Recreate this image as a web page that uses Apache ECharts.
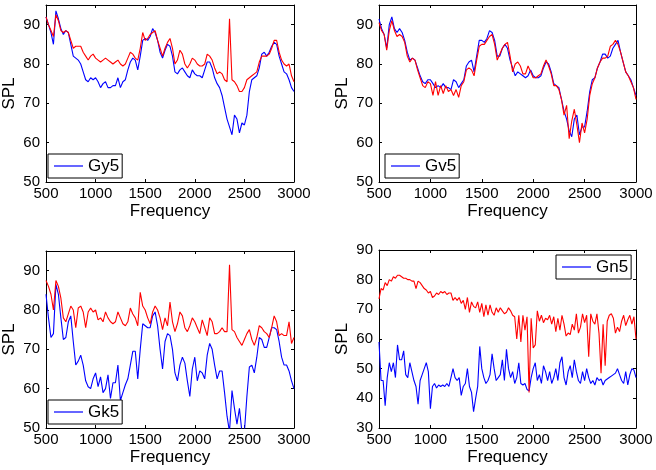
<!DOCTYPE html>
<html>
<head>
<meta charset="utf-8">
<script src="https://cdn.jsdelivr.net/npm/echarts@6/dist/echarts.min.js"></script>
<style>
  html, body { margin: 0; padding: 0; background: #fff; }
  #chart { width: 656px; height: 470px; }
</style>
</head>
<body>
<div id="chart"></div>
<script>
// frequency axis: 500..3000, samples every 25 Hz (panels 1-3) or 20 Hz (panel 4)
var freqStart = 500;
var xTicks = [500, 1000, 1500, 2000, 2500, 3000];

// panel 1 - Gy5 (step 25)
var gy5Blue = [
  92, 90, 88, 85, 93.5, 91.5, 89, 87.5, 88.5, 88,
  85, 82, 81.5, 81, 80, 78, 76, 75.5, 76.5, 76,
  76.5, 75.5, 74, 75, 75.5, 74, 74, 74.5, 74.5, 76.5,
  74, 75.5, 76, 78.5, 80.5, 81.5, 81, 78.5, 82, 86,
  86.5, 86, 87, 89, 88, 86, 83, 81.5, 83.5, 85,
  84.5, 82, 78, 77.5, 78.5, 79, 78, 77, 76.5, 78.5,
  77.5, 77, 77, 76.5, 78.5, 80.5, 80.5, 79, 76.5, 75,
  74, 72, 69, 66, 64, 62, 67, 66, 62.5, 65,
  64.5, 67, 73, 76, 76.5, 77, 79, 82.5, 83, 82,
  83, 84.5, 85.5, 85, 82, 80, 78, 77.5, 76, 74,
  73
];
var gy5Red = [
  92, 90, 88.5, 87, 92.5, 91, 88.5, 88, 88.5, 88,
  86, 84, 84.5, 84.5, 84.5, 83, 82, 81, 82, 82.5,
  81.5, 81, 80.5, 81, 81.5, 81, 80.5, 80, 80.5, 81,
  80, 79.5, 80, 81.5, 83, 82.5, 81.5, 81, 84, 88,
  86, 86.5, 87.5, 88, 88.5, 86, 84, 82, 84, 85.5,
  86.5, 84, 80, 81, 83.5, 82.5, 80, 79, 80, 81.5,
  81, 80, 79.5, 79.5, 80, 82.5, 82, 81, 79, 77.5,
  78, 77.5, 76, 75.5, 91.5, 76, 75.5, 74.5, 73, 73,
  74, 76, 76.5, 77, 77.5, 78, 80.5, 82, 82, 82,
  82.5, 84, 86, 86, 83, 81, 80, 79.5, 80, 77,
  75.5
];

// panel 2 - Gv5 (step 25)
var gv5Blue = [
  91.5, 89, 87.5, 84, 90, 92, 89, 88, 89, 88,
  86, 83, 81, 81.5, 81, 79, 77, 75.5, 75, 76,
  76, 75, 74, 74.5, 74, 75, 74, 74, 73.5, 76,
  75.5, 74, 75, 76, 79.5, 80.5, 81, 78, 82, 86,
  86, 85.5, 86.5, 88.5, 88, 86, 82, 82, 84, 85,
  84, 81, 79, 77, 78, 77.5, 77, 76.5, 77, 78.5,
  77, 76.5, 76.5, 77, 79, 80.5, 80, 78, 75, 74.5,
  74, 71, 68, 66, 63, 61.5, 66, 67, 62, 64,
  64, 68, 73, 76, 76.5, 79, 80.5, 82.5, 82.5, 81.5,
  82, 84, 85, 86, 83, 80.5, 78, 77, 76, 74,
  72
];
var gv5Red = [
  90.5, 88.5, 87.5, 83.5, 88.5, 91, 88.5, 87, 87.5, 87,
  85.5, 82, 80.5, 81.5, 81, 78.5, 76.5, 74.5, 74, 75.5,
  75, 72, 75.5, 72, 74.5, 72.5, 74.5, 73, 73.5, 72,
  73.5, 71.5, 74.5, 75.5, 78.5, 79, 78.5, 77, 81, 84.5,
  85, 85, 86, 87, 87.5, 85, 81, 82.5, 84, 85,
  85.5, 82, 78, 80, 80.5, 79.5, 77.5, 77.5, 79.5, 78,
  76.5, 76.5, 77, 77.5, 79.5, 81, 79.5, 77.5, 74.5, 74.5,
  73.5, 71, 67, 69.5, 61, 65.5, 68.5, 64.5, 60, 65,
  62.5, 66, 72, 75, 76.5, 79, 80.5, 81.5, 81.5, 82,
  84.5, 85, 86, 85, 83, 80.5, 78, 77, 75.5, 74,
  71
];

// panel 3 - Gk5 (step 25)
var gk5Blue = [
  84, 78, 73, 74, 86.5, 84, 78, 72.5, 73, 77,
  78.5, 72, 66, 67, 68.5, 66, 62, 60.5, 60, 62.5,
  64, 60.5, 63, 59, 60, 63.5, 57.5, 61.5, 61.5, 66,
  57, 59, 61, 62.5, 66, 69.5, 69.5, 62.5, 70, 76.5,
  76, 75.5, 75.5, 78.5, 79.5, 76, 70, 65, 72, 74,
  73.5, 70, 64, 62, 66, 68, 66.5, 62, 58, 65,
  68, 62, 64.5, 64, 62.5, 68.5, 71.5, 70, 66, 62.5,
  64.5, 64.5, 59, 53, 49, 59.5, 55, 51, 55, 49,
  49, 58, 65.5, 66, 64, 68, 73, 72.5, 70.5, 70.5,
  73, 75.5, 75.5, 75, 72, 68, 66, 66, 64.5, 62,
  60
];
var gk5Red = [
  87.5, 86, 84, 80, 87.5, 86, 83, 78, 77, 79,
  81, 80, 75.5, 80.5, 81, 79.5, 75.5, 79.5, 80.5, 79.5,
  80, 77.5, 78, 77, 79.5, 78, 77, 76.5, 77, 79.5,
  78, 76.5, 76, 77, 80.5, 79, 78, 76, 84.5, 81,
  80, 78, 76.5, 79.5, 81, 80, 78, 75, 78, 76,
  82, 77, 74.5, 76.5, 79.5, 78.5, 75.5, 74.5, 76, 78,
  77, 75.5, 74, 77.5, 75.5, 73.5, 78, 77, 74, 74,
  74.5, 75.5, 74.5, 74.5, 91.5, 75, 74.5, 73, 72, 71,
  72.5, 74, 75, 72.5, 71, 73, 76, 75.5, 74.5, 74,
  73, 75.5, 78.5, 77, 73.5, 74, 73.5, 73.5, 77, 71.5,
  73
];

// panel 4 - Gn5 (step 20)
var gn5Blue = [
  59, 46, 46, 37.5, 47, 52, 49, 52, 47, 58,
  53, 53, 56, 48, 47, 52, 49, 46, 44, 38,
  46, 48, 50, 52, 49, 36.5, 44, 45, 43.5, 44.5,
  44, 44.5, 44, 45, 44, 47, 50, 47, 46, 47,
  41, 44, 45, 50, 44, 42, 35.5, 40, 44, 57.5,
  50, 47, 45, 46, 48, 55, 50, 46, 47, 48,
  53, 46, 56.5, 50, 47, 49, 45, 47, 52, 45,
  44.5, 45, 43, 42.5, 47, 50, 52, 46, 48, 45,
  51, 49, 46, 49, 45, 47, 50, 46, 52, 54,
  47, 44.5, 49, 51, 47, 53, 49, 46, 45, 49,
  46, 50, 47, 45, 46, 44.5, 47, 46, 46.5, 44.5,
  46, 46.5, 47, 47.5, 48, 48.5, 50, 48, 46, 45,
  49, 44.5, 48, 50, 49.5, 47
];
var gn5Red = [
  73.5, 77, 76.5, 79, 78, 80, 79.5, 81, 80.5, 81.5,
  81.5, 81, 80.5, 80.5, 80, 80, 79.5, 79.5, 77, 79.5,
  79, 78, 77, 76.5, 75.5, 76, 74, 74.5, 75.5, 75,
  76, 75.5, 76, 75, 75.5, 75.5, 73, 74, 73, 74,
  72, 73, 70, 74, 69, 72.5, 71, 70.5, 72.5, 69,
  72, 67.5, 71.5, 68, 71.5, 69, 68, 70.5, 69, 70.5,
  69.5, 68.5, 69, 70.5, 69.5, 68, 67.5, 60, 68, 59,
  68, 63, 67.5, 42, 67, 57, 58, 69.5, 66, 68,
  65.5, 67, 66.5, 68, 65, 67.5, 62.5, 67, 63, 68,
  65, 61, 62, 61.5, 65, 63, 68.5, 62, 64, 68.5,
  65.5, 68, 54, 68.5, 66, 65, 68.5, 62, 48.5, 65,
  51, 66, 68, 68.5, 67, 62, 64, 62.5, 66, 68,
  64.5, 66.5, 68, 65, 67.5, 60
];

var FONT = 'Liberation Sans, Arial, sans-serif';

var panels = [
  { name: 'Gy5', blue: gy5Blue, red: gy5Red, step: 25, yMin: 50, yMax: 95,
    grid: { left: 42, top: 5, width: 252, height: 177 }, legend: { left: 48, top: 154 } },
  { name: 'Gv5', blue: gv5Blue, red: gv5Red, step: 25, yMin: 50, yMax: 95,
    grid: { left: 379, top: 5, width: 257, height: 177 }, legend: { left: 385, top: 154 } },
  { name: 'Gk5', blue: gk5Blue, red: gk5Red, step: 25, yMin: 50, yMax: 95,
    grid: { left: 42, top: 251, width: 252, height: 177 }, legend: { left: 48, top: 400 } },
  { name: 'Gn5', blue: gn5Blue, red: gn5Red, step: 20, yMin: 30, yMax: 90,
    grid: { left: 379, top: 250, width: 257, height: 178 }, legend: { left: 556, top: 255 } }
];

function toPoints(values, step) {
  return values.map(function (v, i) { return [freqStart + i * step, v]; });
}
function plain(v) { return String(v); }

var tickStyle = { show: true, inside: true, length: 3, lineStyle: { color: '#000' } };
var lineStyle = { show: true, onZero: false, lineStyle: { color: '#000', width: 1 } };

var option = { animation: false, grid: [], xAxis: [], yAxis: [], legend: [], series: [] };

panels.forEach(function (p, i) {
  option.grid.push({ left: p.grid.left, top: p.grid.top, width: p.grid.width, height: p.grid.height,
    show: false, containLabel: false });
  option.legend.push({
    left: p.legend.left, top: p.legend.top, data: [p.name],
    orient: 'horizontal', icon: 'rect', itemWidth: 29, itemHeight: 1.2, padding: [3, 3, 3, 6],
    borderColor: '#000', borderWidth: 1, borderRadius: 0, backgroundColor: '#fff',
    selectedMode: false,
    textStyle: { fontFamily: FONT, fontSize: 17, color: '#000', lineHeight: 18 }
  });
  option.series.push({
    name: p.name, type: 'line', xAxisIndex: i, yAxisIndex: i,
    data: toPoints(p.blue, p.step), symbol: 'none', showSymbol: false,
    lineStyle: { color: '#0000ff', width: 1.1 }, itemStyle: { color: '#0000ff' }, z: 2
  });
  option.series.push({
    name: p.name + ' ref', type: 'line', xAxisIndex: i, yAxisIndex: i,
    data: toPoints(p.red, p.step), symbol: 'none', showSymbol: false,
    lineStyle: { color: '#ff0000', width: 1.1 }, itemStyle: { color: '#ff0000' }, z: 3
  });
});

// bottom / left axes with labels
panels.forEach(function (p, i) {
  option.xAxis.push({
    type: 'value', gridIndex: i, position: 'bottom', min: xTicks[0], max: xTicks[xTicks.length - 1], interval: 500,
    name: 'Frequency', nameLocation: 'middle', nameGap: 21,
    nameTextStyle: { fontFamily: FONT, fontSize: 17, color: '#000' },
    axisLine: lineStyle, axisTick: tickStyle, splitLine: { show: false },
    axisLabel: { fontFamily: FONT, fontSize: 15, color: '#000', margin: 4, formatter: plain }
  });
  option.yAxis.push({
    type: 'value', gridIndex: i, position: 'left', min: p.yMin, max: p.yMax, interval: 10,
    name: 'SPL', nameLocation: 'middle', nameGap: 28, nameRotate: 90,
    nameTextStyle: { fontFamily: FONT, fontSize: 17, color: '#000' },
    axisLine: lineStyle, axisTick: tickStyle, splitLine: { show: false },
    axisLabel: { fontFamily: FONT, fontSize: 15, color: '#000', margin: 6, formatter: plain,
      showMaxLabel: p.yMax % 10 === 0 }
  });
});
// top / right mirror axes (box + ticks only)
panels.forEach(function (p, i) {
  option.xAxis.push({
    type: 'value', gridIndex: i, position: 'top', min: xTicks[0], max: xTicks[xTicks.length - 1], interval: 500,
    axisLine: lineStyle, axisTick: tickStyle, axisLabel: { show: false }, splitLine: { show: false }
  });
  option.yAxis.push({
    type: 'value', gridIndex: i, position: 'right', min: p.yMin, max: p.yMax, interval: 10,
    axisLine: lineStyle, axisTick: tickStyle, axisLabel: { show: false }, splitLine: { show: false }
  });
});

var chart = echarts.init(document.getElementById('chart'), null, { renderer: 'canvas' });
chart.setOption(option);
</script>
</body>
</html>
